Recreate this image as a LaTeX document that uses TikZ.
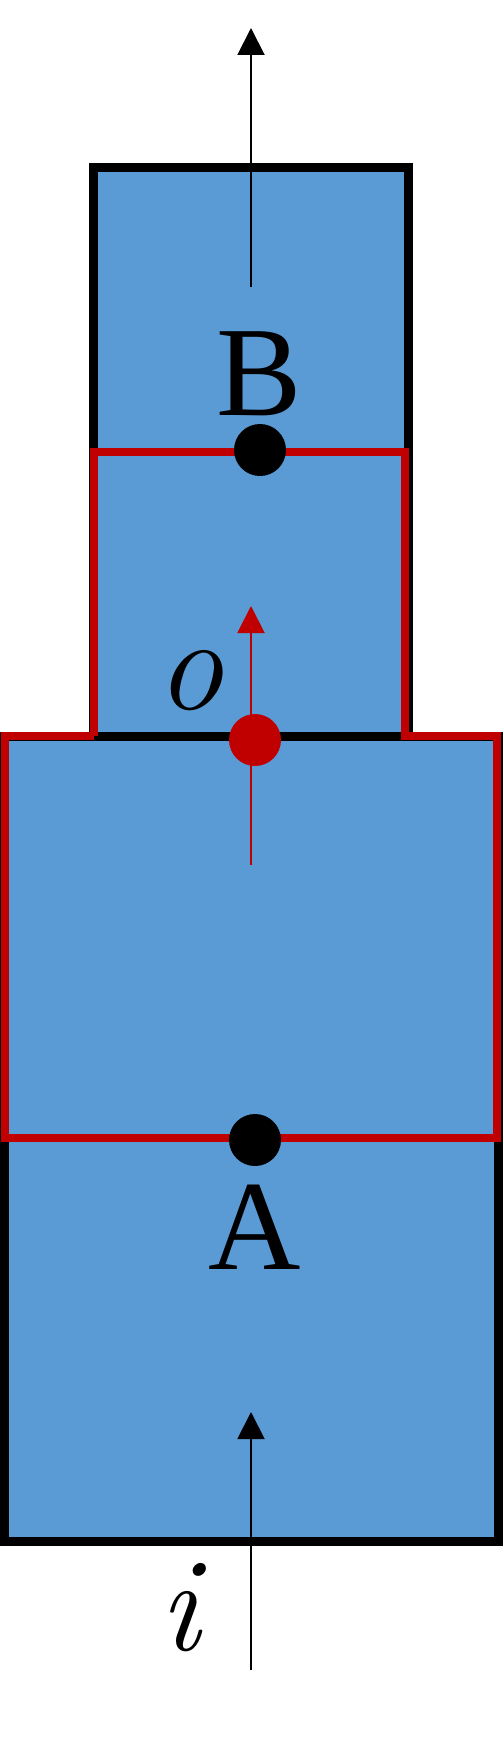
\documentclass[tikz,border=0pt]{standalone}
\usepackage{fontspec}
\setmainfont{Liberation Serif}
\newfontfamily\lmfont{Latin Modern Roman}
\usetikzlibrary{arrows.meta}
\definecolor{boxblue}{HTML}{5B9BD5}
\definecolor{darkred}{HTML}{C00000}
\tikzset{
  boxline/.style={line width=9pt, line join=miter, draw=black},
  redline/.style={line width=8pt, line join=miter, line cap=square, draw=darkred},
  flow/.style={line width=2pt, -{Triangle[length=27pt,width=27pt]}},
  dotmark/.style={circle, fill=black, inner sep=0pt, minimum size=52pt},
  lbl/.style={inner sep=0pt, font=\fontsize{128}{128}\selectfont},
  varlbl/.style={inner sep=0pt, font=\lmfont\itshape\fontsize{134}{134}\selectfont},
}
\begin{document}
\begin{tikzpicture}[x=1pt,y=-1pt]
\useasboundingbox (0,0) rectangle (503,1755);
% fills
\fill[boxblue] (93.5,168) rectangle (408.5,736);
\fill[boxblue] (4.5,736) rectangle (498.5,1541);
% black outlines
\draw[boxline] (93.5,168) rectangle (408.5,736);
\draw[boxline] (4.5,736) rectangle (498.5,1541);
% red outline
\draw[redline] (93.5,736) -- (93.5,452) -- (405,452) -- (405,736) -- (497,736) -- (497,1138) -- (5,1138) -- (5,736) -- (93.5,736);
% arrow coordinates
\coordinate (topS) at (251,287);
\coordinate (topE) at (251,28);
\coordinate (midS) at (251,865);
\coordinate (midE) at (251,606);
\coordinate (botS) at (251,1670);
\coordinate (botE) at (251,1412);
\draw[flow] (topS) -- (topE);
\draw[flow, darkred] (midS) -- (midE);
\draw[flow] (botS) -- (botE);
% dots
\node[dotmark] (dB) at (260,450) {};
\node[dotmark, fill=darkred] (dO) at (255,740) {};
\node[dotmark] (dA) at (255,1140) {};
% labels
\node[lbl, anchor=base] (B) at (259,415) {B};
\node[lbl, anchor=base] (A) at (255,1269) {A};
\node[varlbl, anchor=base] (o) at (190,709) {o};
\node[varlbl, anchor=base] (i) at (180,1650) {i};
\end{tikzpicture}
\end{document}
